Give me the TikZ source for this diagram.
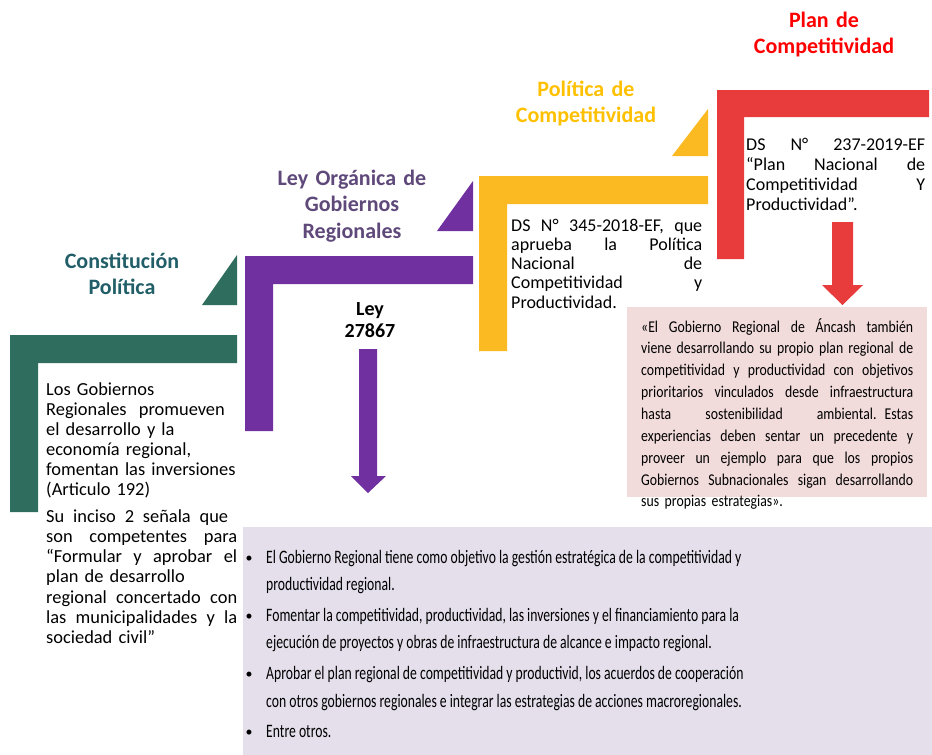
\documentclass[tikz,border=0pt]{standalone}
\usepackage{fontspec}
\setmainfont{Carlito}
\newfontfamily\narrowA[FakeStretch=0.72]{Carlito}
\newfontfamily\narrowB[FakeStretch=0.835]{Carlito}
\definecolor{cgreen}{HTML}{2F6E5E}
\definecolor{cgreentxt}{HTML}{215E68}
\definecolor{cpurple}{HTML}{7030A0}
\definecolor{cpurpletxt}{HTML}{5F497A}
\definecolor{cyellow}{HTML}{FBBA22}
\definecolor{cyellowtxt}{HTML}{FFC000}
\definecolor{cred}{HTML}{E83B3B}
\definecolor{credtxt}{HTML}{FF0000}
\definecolor{cpink}{HTML}{F2DCDB}
\definecolor{clav}{HTML}{E5DFEC}
\newlength\jw
\newcommand\jline[1]{\leavevmode\hbox to \jw{\spaceskip=0.22em plus 1fil\relax #1}\\}
\tikzset{
  titletxt/.style={font=\bfseries\fontsize{22}{26.5}\selectfont, align=center, anchor=base, inner sep=0, text width=240pt},
  bodytxt/.style={font=\fontsize{18.4}{20}\selectfont, anchor=base west, inner sep=0, align=left},
  lavline/.style={font=\narrowA\fontsize{19}{22}\selectfont, anchor=base west, inner sep=0},
  bul/.style={font=\fontsize{14}{16}\selectfont, anchor=base, inner sep=0},
}
\begin{document}
\begin{tikzpicture}[x=1pt,y=-1pt]
\useasboundingbox (0,0) rectangle (932,755);
% background boxes
\fill[clav] (243,527) rectangle (932,755);
\fill[cpink] (627,307) rectangle (927,497);
% green
\fill[cgreen] (10,335) -- (237,335) -- (237,363) -- (38,363) -- (38,512) -- (10,512) -- cycle;
\fill[cgreen] (202,305) -- (237,305) -- (237,255) -- cycle;
% purple
\fill[cpurple] (245,256) -- (473,256) -- (473,284) -- (273,284) -- (273,431) -- (245,431) -- cycle;
\fill[cpurple] (437,231) -- (473,231) -- (473,181) -- cycle;
\fill[cpurple] (359,349) -- (377,349) -- (377,476) -- (386,476) -- (368,493) -- (351,476) -- (359,476) -- cycle;
% yellow
\fill[cyellow] (479,176) -- (708,176) -- (708,204) -- (507,204) -- (507,351) -- (479,351) -- cycle;
\fill[cyellow] (672,156) -- (708,156) -- (708,109) -- cycle;
% red
\fill[cred] (717,90) -- (929,90) -- (929,117) -- (744,117) -- (744,259) -- (717,259) -- cycle;
\fill[cred] (832,222) -- (853,222) -- (853,285) -- (863,285) -- (842.5,305) -- (822,285) -- (832,285) -- cycle;

% titles
\node[titletxt, text=cgreentxt] (t1) at (122,268) {Constitución\\Política};
\node[titletxt, text=cpurpletxt] (t2) at (352,185) {Ley Orgánica de\\Gobiernos\\Regionales};
\node[titletxt, text=cyellowtxt] (t3) at (586,96) {Política de\\Competitividad};
\node[titletxt, text=credtxt] (t4) at (824,27) {Plan de\\Competitividad};

% ley
\node[font=\bfseries\fontsize{20}{22}\selectfont, align=center, anchor=base, inner sep=0, text width=100pt] (ley) at (370,315) {Ley\\27867};

% green texts
\node[bodytxt, text width=192pt] (g1) at (46,395) {Los Gobiernos\\Regionales\ \ promueven\\el desarrollo y la\\economía regional,\\fomentan las inversiones\\(Articulo 192)};
\node[bodytxt, text width=192pt, font=\fontsize{18.4}{20.3}\selectfont] (g2) at (46,522) {\setlength\jw{182pt}\jline{Su inciso 2 señala que}\setlength\jw{191pt}\jline{son competentes para}\jline{“Formular y aprobar el}plan de desarrollo\\\jline{regional concertado con}\jline{las municipalidades y la}sociedad civil”};

% yellow text
\node[bodytxt, text width=191pt, font=\fontsize{18}{19.3}\selectfont] (y1) at (511,231) {\setlength\jw{191pt}\jline{DS N° 345-2018-EF, que}\jline{aprueba la Política}\jline{Nacional de}\jline{Competitividad y}Productividad.};

% red text
\node[bodytxt, text width=179pt, font=\fontsize{18}{20}\selectfont] (r1) at (746,150) {\setlength\jw{179pt}\jline{DS N° 237-2019-EF}\jline{“Plan Nacional de}\jline{Competitividad Y}Productividad”.};

% pink text
\node[bodytxt, text width=272pt, font=\narrowB\fontsize{16.5}{21.86}\selectfont] (p1) at (641,332) {\setlength\jw{272pt}\jline{«El Gobierno Regional de Áncash también}\jline{viene desarrollando su propio plan regional de}\jline{competitividad y productividad con objetivos}\jline{prioritarios vinculados desde infraestructura}\jline{hasta sostenibilidad ambiental. Estas}\jline{experiencias deben sentar un precedente y}\jline{proveer un ejemplo para que los propios}\jline{Gobiernos Subnacionales sigan desarrollando}sus propias estrategias».};

% lavender bullets
\node[bul] (b1) at (249,562) {•};
\node[bul] (b2) at (249,620) {•};
\node[bul] (b3) at (249,678) {•};
\node[bul] (b4) at (249,736) {•};
\node[lavline] (l1) at (266,563) {El Gobierno Regional tiene como objetivo la gestión estratégica de la competitividad y};
\node[lavline] (l2) at (266,590) {productividad regional.};
\node[lavline] (l3) at (266,621) {Fomentar la competitividad, productividad, las inversiones y el financiamiento para la};
\node[lavline] (l4) at (266,648) {ejecución de proyectos y obras de infraestructura de alcance e impacto regional.};
\node[lavline] (l5) at (266,679) {Aprobar el plan regional de competitividad y productivid, los acuerdos de cooperación};
\node[lavline] (l6) at (266,707) {con otros gobiernos regionales e integrar las estrategias de acciones macroregionales.};
\node[lavline] (l7) at (266,737) {Entre otros.};
\end{tikzpicture}
\end{document}
